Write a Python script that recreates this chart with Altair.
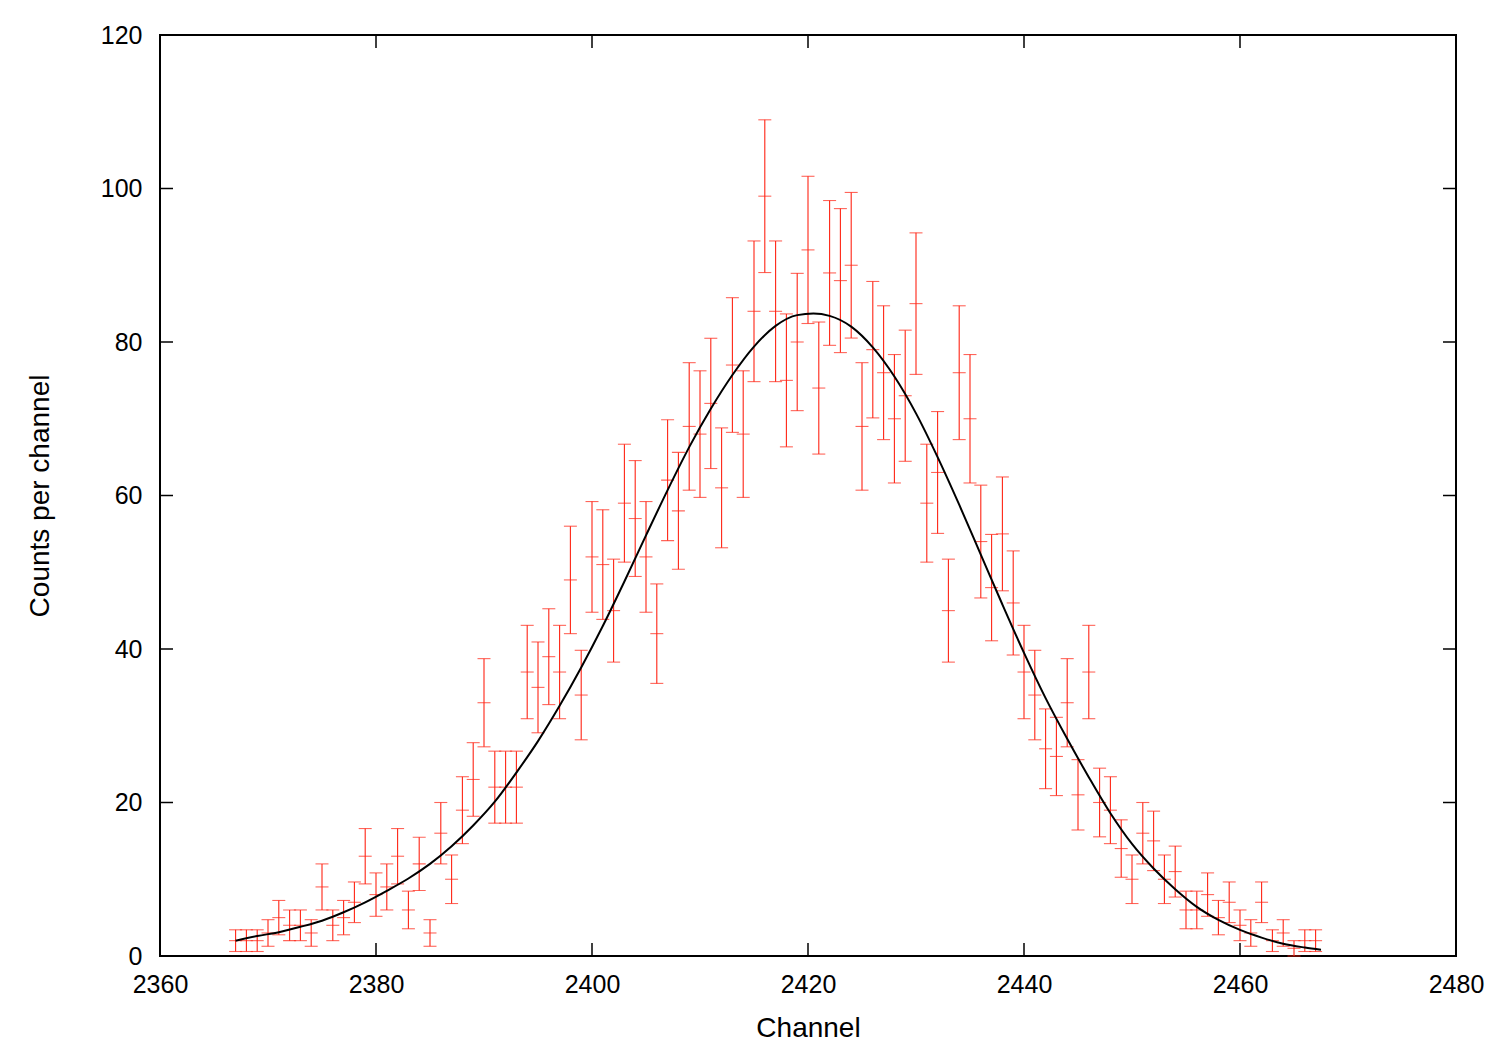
import math
import altair as alt
import pandas as pd

# ---- data ----
channels = list(range(2367, 2468))
counts = [
    2, 2, 2, 3, 5, 4, 4, 3, 9, 4,          # 2367-2376
    5, 7, 13, 8, 9, 13, 6, 12, 3, 16,      # 2377-2386
    10, 19, 23, 33, 22, 22, 22, 37, 35, 39,  # 2387-2396
    37, 49, 34, 52, 51, 45, 59, 57, 52, 42,  # 2397-2406
    62, 58, 69, 68, 72, 61, 77, 68, 84, 99,  # 2407-2416
    84, 75, 80, 92, 74, 89, 88, 90, 69, 79,  # 2417-2426
    76, 70, 73, 85, 59, 63, 45, 76, 70, 54,  # 2427-2436
    48, 55, 46, 37, 34, 27, 26, 33, 21, 37,  # 2437-2446
    20, 19, 14, 10, 16, 15, 10, 11, 6, 6,    # 2447-2456
    8, 5, 7, 4, 3, 7, 2, 3, 1, 2,            # 2457-2466
    2,                                       # 2467
]

# fitted curve
fit_channel = [2367, 2369, 2371, 2373, 2375, 2377, 2379, 2381, 2383, 2385,
               2387, 2389, 2391, 2393, 2395, 2397, 2399, 2401, 2403, 2405,
               2407, 2409, 2411, 2413, 2415, 2417, 2419, 2420.5, 2422, 2424,
               2426, 2428, 2430, 2432, 2434, 2436, 2438, 2440, 2442, 2444,
               2446, 2448, 2450, 2452, 2454, 2456, 2458, 2460, 2462, 2464,
               2466, 2467.5]
fit_counts = [2.0, 2.6, 3.1, 3.8, 4.6, 5.7, 7.0, 8.5, 10.1, 12.0,
              14.3, 17.0, 20.1, 23.9, 28.0, 32.6, 37.6, 43.0, 48.8, 54.8,
              60.7, 66.3, 71.3, 75.7, 79.4, 82.1, 83.5, 83.7, 83.4, 82.0,
              79.3, 75.5, 70.7, 65.0, 58.8, 52.3, 45.8, 39.5, 33.6, 28.3,
              23.3, 18.6, 14.6, 11.4, 8.7, 6.4, 4.7, 3.4, 2.4, 1.6,
              1.1, 0.8]

x_ticks = [2360, 2380, 2400, 2420, 2440, 2460, 2480]
y_ticks = [0, 20, 40, 60, 80, 100, 120]

# ---- tables ----
err = [math.sqrt(c) for c in counts]
pts = pd.DataFrame({
    "channel": channels,
    "counts": counts,
    "lo": [c - e for c, e in zip(counts, err)],
    "hi": [c + e for c, e in zip(counts, err)],
})
caps = pd.concat([
    pd.DataFrame({"channel": channels, "y": pts["lo"]}),
    pd.DataFrame({"channel": channels, "y": pts["hi"]}),
    pd.DataFrame({"channel": channels, "y": counts}),
])
fit = pd.DataFrame({"channel": fit_channel, "counts": fit_counts})
xt = pd.DataFrame({"v": x_ticks})
yt = pd.DataFrame({"v": y_ticks})

W, H = 1296, 921
RED = "#ff2414"
FONT = "Liberation Sans"
TL = 13

xs = alt.Scale(domain=[2360, 2480], nice=False, zero=False)
ys = alt.Scale(domain=[0, 120], nice=False, zero=False)

x_axis = alt.Axis(values=x_ticks, ticks=False, domain=False, grid=False,
                  labelFontSize=25, labelPadding=16, labelColor="black",
                  labelFont=FONT, title="Channel", titleFont=FONT,
                  titleFontSize=28, titleFontWeight="normal", titleColor="black",
                  titlePadding=17, format="d", labelFlush=False)
y_axis = alt.Axis(values=y_ticks, ticks=False, domain=False, grid=False,
                  labelFontSize=25, labelPadding=18, labelColor="black",
                  labelFont=FONT, title="Counts per channel", titleFont=FONT,
                  titleFontSize=28, titleFontWeight="normal", titleColor="black",
                  titlePadding=46, labelFlush=False)

bars = alt.Chart(pts).mark_rule(color=RED, strokeWidth=1.1).encode(
    x=alt.X("channel:Q", scale=xs, axis=x_axis),
    y=alt.Y("lo:Q", scale=ys, axis=y_axis),
    y2="hi:Q",
)
cap_marks = alt.Chart(caps).mark_tick(color=RED, orient="horizontal", size=13, thickness=1.1).encode(
    x=alt.X("channel:Q", scale=xs),
    y=alt.Y("y:Q", scale=ys),
)
fit_line = alt.Chart(fit).mark_line(color="black", strokeWidth=2, interpolate="monotone").encode(
    x=alt.X("channel:Q", scale=xs),
    y=alt.Y("counts:Q", scale=ys),
)

tick_style = dict(color="black", strokeWidth=1.5)
bottom_t = alt.Chart(xt).mark_rule(**tick_style).encode(
    x=alt.X("v:Q", scale=xs), y=alt.value(H), y2=alt.value(H - TL))
top_t = alt.Chart(xt).mark_rule(**tick_style).encode(
    x=alt.X("v:Q", scale=xs), y=alt.value(0), y2=alt.value(TL))
left_t = alt.Chart(yt).mark_rule(**tick_style).encode(
    y=alt.Y("v:Q", scale=ys), x=alt.value(0), x2=alt.value(TL))
right_t = alt.Chart(yt).mark_rule(**tick_style).encode(
    y=alt.Y("v:Q", scale=ys), x=alt.value(W), x2=alt.value(W - TL))

chart = alt.layer(bars, cap_marks, fit_line, bottom_t, top_t, left_t, right_t).properties(
    width=W, height=H,
    autosize=alt.AutoSizeParams(type="none"),
    padding={"left": 160, "top": 35, "right": 44, "bottom": 94},
    background="white",
).configure_view(stroke="black", strokeWidth=2)

chart.save("out.html", embed_options={"renderer": "svg", "actions": False})
